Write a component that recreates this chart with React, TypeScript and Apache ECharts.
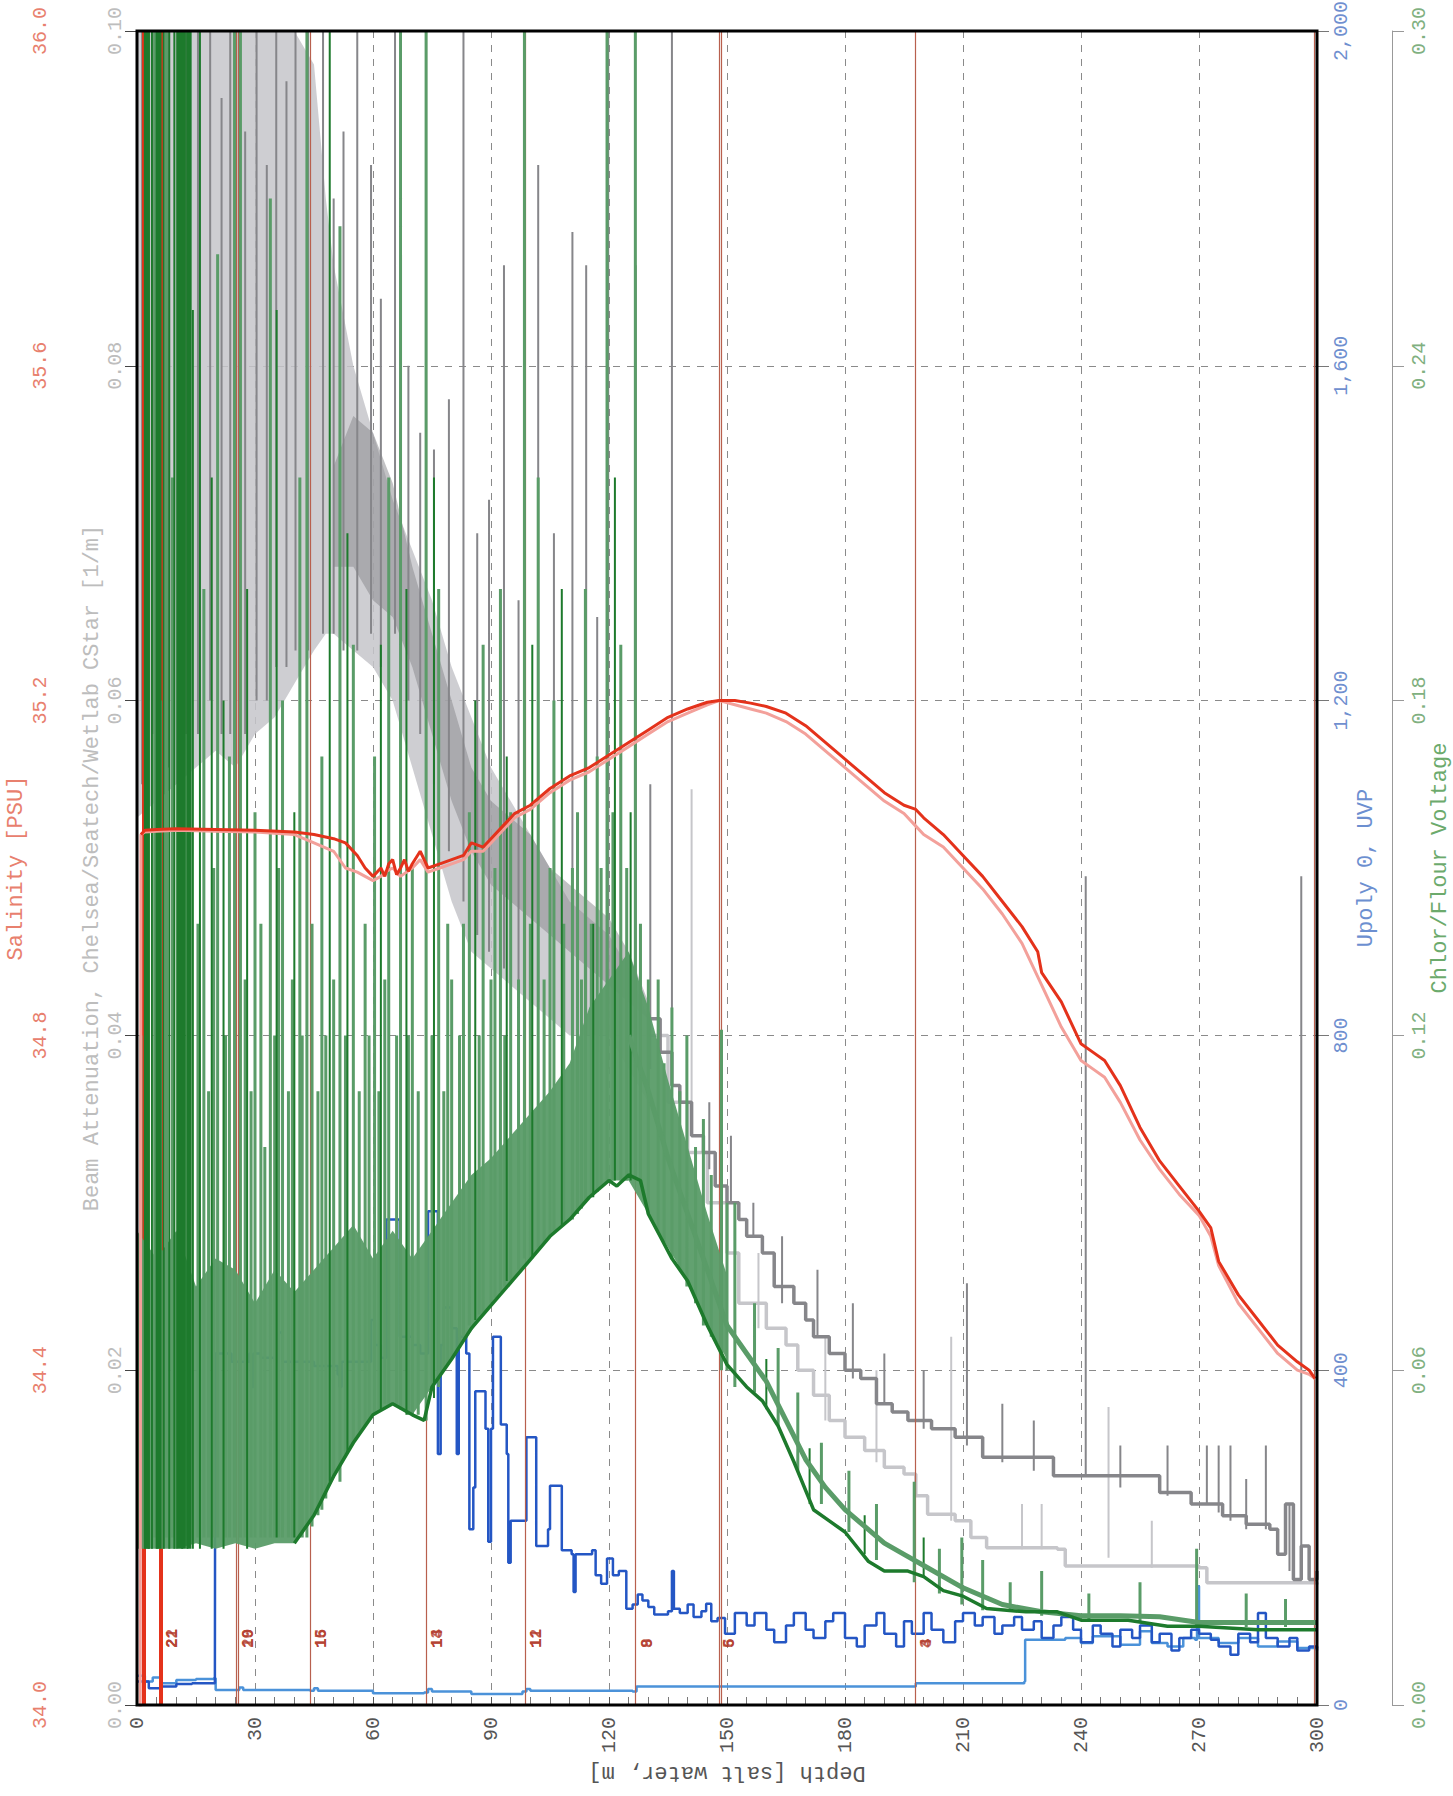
import React, { useEffect, useRef } from "react";
import * as echarts from "echarts";

const MONO = "'Liberation Mono', 'DejaVu Sans Mono', monospace";

// ---------- Salinity [PSU] (down / up casts) ----------
const salinityDown: [number, number][] = [
  [1, 35.04], [2, 35.045], [5, 35.046], [10, 35.047], [20, 35.046], [30, 35.045], [40, 35.043], [45, 35.04],
  [50, 35.035], [53, 35.03], [56, 35.015], [58, 35.0], [60, 34.99], [61, 34.995], [62, 35.0], [63, 34.99],
  [64, 35.005], [65, 35.01], [66, 34.992], [67, 35.0], [68, 35.01], [69, 34.996], [70, 35.005], [72, 35.02],
  [74, 35.0], [77, 35.005], [80, 35.01], [83, 35.015], [85, 35.03], [88, 35.025], [90, 35.035], [93, 35.05],
  [96, 35.065], [100, 35.075], [105, 35.095], [110, 35.11], [115, 35.12], [120, 35.135], [125, 35.15],
  [130, 35.165], [135, 35.18], [140, 35.19], [145, 35.198], [148, 35.2], [152, 35.2], [156, 35.197],
  [160, 35.193], [165, 35.185], [170, 35.17], [175, 35.15], [180, 35.13], [185, 35.11], [190, 35.09],
  [195, 35.075], [198, 35.07], [200, 35.06], [205, 35.04], [210, 35.015], [215, 34.99], [220, 34.96],
  [225, 34.93], [229, 34.9], [230, 34.875], [235, 34.84], [240, 34.79], [243, 34.78], [246, 34.77],
  [250, 34.74], [255, 34.69], [260, 34.65], [265, 34.62], [270, 34.59], [273, 34.57], [275, 34.53],
  [280, 34.49], [285, 34.46], [290, 34.43], [295, 34.41], [298, 34.4], [299.5, 34.39],
];
const salinityUp: [number, number][] = [
  [0.8, 33.9], [1, 35.04], [2, 35.043], [5, 35.044], [10, 35.045], [20, 35.044], [30, 35.043], [40, 35.04],
  [45, 35.03], [50, 35.02], [53, 35.0], [56, 34.995], [58, 34.99], [60, 34.985], [62, 34.99], [63, 34.995],
  [65, 35.0], [67, 34.99], [70, 35.0], [72, 35.01], [74, 34.995], [77, 35.0], [80, 35.005], [83, 35.01],
  [85, 35.02], [88, 35.02], [90, 35.03], [93, 35.045], [96, 35.06], [100, 35.07], [105, 35.09], [110, 35.105],
  [115, 35.115], [120, 35.13], [125, 35.145], [130, 35.16], [135, 35.175], [140, 35.185], [145, 35.195],
  [148, 35.2], [152, 35.195], [156, 35.19], [160, 35.185], [165, 35.175], [170, 35.16], [175, 35.14],
  [180, 35.12], [185, 35.1], [190, 35.08], [195, 35.065], [198, 35.05], [200, 35.04], [205, 35.025],
  [210, 35.0], [215, 34.975], [220, 34.945], [225, 34.91], [230, 34.86], [235, 34.81], [240, 34.77],
  [243, 34.76], [246, 34.75], [250, 34.72], [255, 34.675], [260, 34.64], [265, 34.61], [270, 34.585],
  [273, 34.56], [275, 34.525], [280, 34.48], [285, 34.45], [290, 34.42], [295, 34.4], [298, 34.395], [299.5, 34.39],
];

// ---------- Beam attenuation [1/m] ----------
const beamLightBandDepth = [0, 5, 10, 15, 20, 25, 30, 35, 40, 45, 48, 50, 55, 60, 65, 70, 75, 80, 85, 90, 95, 100, 105, 110, 115, 120, 125, 130];
const beamLightBandLow = [0.053, 0.054, 0.055, 0.056, 0.057, 0.056, 0.058, 0.059, 0.061, 0.063, 0.064, 0.064, 0.063, 0.062, 0.06, 0.056, 0.052, 0.048, 0.045, 0.044, 0.043, 0.042, 0.041, 0.04, 0.04, 0.04, 0.038, 0.036];
const beamLightBandHigh = [0.1, 0.1, 0.1, 0.1, 0.1, 0.1, 0.1, 0.1, 0.1, 0.098, 0.09, 0.086, 0.08, 0.076, 0.072, 0.069, 0.066, 0.062, 0.059, 0.056, 0.054, 0.052, 0.05, 0.048, 0.047, 0.046, 0.044, 0.041];
const beamDarkBandDepth = [50, 55, 60, 65, 70, 75, 80, 85, 90, 95, 100, 105, 110, 115, 120, 125, 130];
const beamDarkBandLow = [0.068, 0.068, 0.066, 0.065, 0.062, 0.058, 0.054, 0.051, 0.049, 0.048, 0.047, 0.046, 0.045, 0.044, 0.043, 0.042, 0.041];
const beamDarkBandHigh = [0.074, 0.077, 0.076, 0.073, 0.068, 0.064, 0.06, 0.056, 0.054, 0.053, 0.052, 0.05, 0.049, 0.048, 0.047, 0.045, 0.042];
const beamDarkTrace: [number, number][] = [
  [130, 0.041], [133, 0.039], [136, 0.037], [138, 0.036], [141, 0.034], [144, 0.033], [147, 0.031], [150, 0.03],
  [153, 0.029], [155, 0.028], [159, 0.027], [162, 0.025], [167, 0.024], [170, 0.023], [172, 0.022], [176, 0.021],
  [180, 0.02], [184, 0.0195], [188, 0.018], [192, 0.0175], [196, 0.017], [202, 0.0165], [208, 0.016], [215, 0.0148],
  [233, 0.0137], [260, 0.0127], [268, 0.012], [276, 0.0113], [282, 0.0108], [288, 0.0105], [290, 0.009],
  [292, 0.012], [294, 0.0075], [296, 0.0095], [298, 0.0075], [300, 0.008],
];
const beamLightTrace: [number, number][] = [
  [130, 0.04], [135, 0.036], [140, 0.033], [145, 0.03], [150, 0.027], [153, 0.024], [160, 0.0225], [165, 0.0215],
  [168, 0.02], [172, 0.0185], [176, 0.017], [180, 0.016], [185, 0.0152], [190, 0.0142], [195, 0.0138], [198, 0.0125],
  [201, 0.0114], [208, 0.011], [212, 0.01], [216, 0.0094], [234, 0.0093], [236, 0.0083], [270, 0.0082],
  [272, 0.0073], [300, 0.0072],
];
// spikes: [depth, from, to]
const beamDarkSpikes: [number, number, number][] = [
  [1.3, 0.055, 0.1], [3, 0.06, 0.1], [4, 0.058, 0.1], [8, 0.056, 0.1], [12.5, 0.058, 0.1], [15.5, 0.058, 0.1],
  [18.6, 0.06, 0.1], [21.5, 0.058, 0.096], [23.7, 0.058, 0.1], [27.5, 0.058, 0.094], [30.4, 0.06, 0.1],
  [33, 0.06, 0.092], [35.4, 0.062, 0.1], [38, 0.062, 0.097], [40.3, 0.063, 0.1], [43.5, 0.063, 0.1],
  [47.3, 0.064, 0.1], [50, 0.064, 0.09], [52.5, 0.063, 0.094], [56, 0.063, 0.1], [59.5, 0.064, 0.092],
  [62, 0.062, 0.084], [65.6, 0.064, 0.1], [69, 0.06, 0.08], [72, 0.058, 0.076], [75.5, 0.055, 0.075],
  [79.3, 0.051, 0.078], [83, 0.048, 0.1], [86.5, 0.046, 0.07], [89.5, 0.045, 0.072], [93.3, 0.044, 0.086],
  [97, 0.043, 0.066], [102, 0.042, 0.092], [106, 0.041, 0.07], [110.7, 0.04, 0.088], [114.2, 0.04, 0.086],
  [117, 0.039, 0.065], [119.8, 0.038, 0.1], [123, 0.038, 0.06], [126.8, 0.037, 0.086], [130.5, 0.038, 0.055],
  [136, 0.037, 0.1], [145.5, 0.032, 0.036], [151, 0.03, 0.034], [156.7, 0.028, 0.03], [164, 0.024, 0.028],
  [173, 0.022, 0.026], [182, 0.0195, 0.024], [190, 0.018, 0.021], [200, 0.0165, 0.02], [211, 0.0155, 0.0252],
  [220, 0.0145, 0.018], [228, 0.014, 0.017], [241.2, 0.0137, 0.0495], [250, 0.013, 0.0155], [262, 0.0125, 0.0155],
  [272, 0.012, 0.0155], [275, 0.0115, 0.0155], [278, 0.011, 0.0155], [282, 0.0105, 0.0135], [287, 0.0105, 0.0155],
  [293, 0.008, 0.012], [296, 0.008, 0.0495],
];
const beamLightSpikes: [number, number, number][] = [
  [141, 0.034, 0.0547], [158, 0.0225, 0.027], [175, 0.017, 0.022], [188, 0.0145, 0.02], [207, 0.011, 0.022],
  [225, 0.0093, 0.012], [230, 0.0093, 0.012], [247, 0.0088, 0.0178], [258, 0.0082, 0.011],
];

// ---------- Upoly 0, UVP ----------
const uvpDark: [number, number][] = [
  [0, 28], [3, 20], [6, 22], [10, 25], [14, 26], [19.8, 28], [19.9, 420], [24, 410], [28.6, 420], [29, 380],
  [29.6, 420], [31.5, 415], [35, 410], [36, 445], [37, 410], [45, 405], [51, 395], [51.5, 380], [52, 410],
  [59.5, 460], [60.5, 430], [62, 415], [63.4, 580], [66.3, 580], [66.8, 440], [70, 430], [72, 420], [74, 590],
  [76, 590], [76.5, 300], [77.2, 430], [78, 475], [80, 450], [81.3, 300], [81.8, 440], [83.7, 420], [84.5, 210],
  [85.5, 260], [86, 375], [88.6, 330], [89.3, 195], [90, 330], [90.5, 440], [92.5, 335], [94, 300], [94.4, 170],
  [95, 220], [98.5, 220], [99, 320], [101, 320], [101.5, 190], [103.6, 190], [104.5, 210], [105, 262],
  [107.5, 262], [108, 185], [110.5, 180], [111, 135], [111.5, 180], [115.7, 185], [116.6, 155], [118, 145],
  [119.5, 175], [120.5, 175], [121, 155], [122.5, 160], [124.4, 115], [126, 120], [127.3, 132], [128.5, 125],
  [130, 117], [131.5, 108], [133, 108], [135, 112], [136, 160], [136.5, 115], [138, 110], [140, 120],
  [141.5, 105], [143.5, 112], [144.7, 121], [146, 100], [147.6, 104], [149.5, 85], [152, 110], [155, 95],
  [157, 110], [160, 90], [162, 75], [165, 95], [167, 110], [170, 90], [172, 80], [175, 100], [177, 110],
  [180, 80], [183, 70], [185, 95], [188, 110], [190, 85], [193, 70], [195, 100], [197, 85], [200, 110],
  [202, 90], [205, 75], [208, 100], [210, 110], [213, 95], [215, 105], [218, 85], [220, 95], [223, 105],
  [225, 90], [228, 100], [230, 80], [233, 95], [235, 105], [238, 90], [240, 75], [243, 95], [245, 85],
  [248, 70], [250, 90], [253, 80], [255, 95], [258, 75], [260, 85], [263, 65], [265, 80], [268, 90], [270, 85],
  [273, 78], [275, 70], [278, 60], [280, 85], [283, 75], [285, 110], [287, 80], [290, 70], [293, 80],
  [295, 65], [298, 70], [300, 65],
];
const uvpLight: [number, number][] = [
  [0, 35], [2, 28], [4, 33], [6, 26], [10, 30], [15, 31], [19.5, 32], [20, 18], [25, 18], [26, 21], [27, 18],
  [44, 17], [45, 20], [46, 17], [60, 14], [73, 15], [74, 19], [75, 16], [85, 13], [98, 16], [99, 19], [100, 17],
  [126, 16], [127, 22], [197, 22], [198, 26], [225.6, 28], [225.8, 78], [236, 80], [240, 74], [243, 82],
  [250, 72], [255, 88], [258, 74], [262, 70], [266, 80], [269, 78], [269.5, 142], [270, 80], [275, 74],
  [280, 80], [285, 70], [290, 76], [295, 68], [300, 70],
];

// ---------- Chlor/Flour Voltage ----------
const chlorBandDepth = [0, 5, 10, 15, 20, 25, 30, 35, 40, 45, 50, 55, 60, 65, 70, 75, 80, 85, 90, 95, 100, 105, 110, 115, 120, 125, 130, 135, 140, 145, 150];
const chlorBandLow = [0.028, 0.028, 0.028, 0.029, 0.028, 0.029, 0.028, 0.029, 0.029, 0.034, 0.041, 0.047, 0.052, 0.054, 0.052, 0.057, 0.062, 0.067, 0.072, 0.076, 0.08, 0.084, 0.087, 0.091, 0.094, 0.094, 0.088, 0.082, 0.076, 0.068, 0.062];
const chlorBandHigh = [0.085, 0.08, 0.085, 0.075, 0.08, 0.078, 0.072, 0.078, 0.074, 0.078, 0.082, 0.086, 0.08, 0.085, 0.08, 0.085, 0.09, 0.095, 0.098, 0.102, 0.106, 0.11, 0.115, 0.125, 0.13, 0.135, 0.125, 0.112, 0.1, 0.088, 0.077];
const chlorDarkTrace: [number, number][] = [
  [40, 0.029], [45, 0.034], [50, 0.041], [55, 0.047], [60, 0.052], [65, 0.054], [70, 0.052], [73, 0.051],
  [75, 0.057], [80, 0.062], [85, 0.0675], [90, 0.0716], [95, 0.0757], [100, 0.0798], [105, 0.084], [110, 0.087],
  [115, 0.091], [120, 0.094], [122, 0.093], [125, 0.095], [128, 0.094], [130, 0.088], [133, 0.084], [136, 0.08],
  [140, 0.076], [145, 0.068], [150, 0.061], [155, 0.057], [159, 0.0545], [163, 0.05], [167, 0.0436], [172, 0.035],
  [176, 0.033], [180, 0.031], [186, 0.0257], [190, 0.024], [196, 0.024], [200, 0.023], [205, 0.0205],
  [210, 0.0195], [216, 0.0173], [226, 0.0167], [234, 0.0167], [240, 0.0152], [252, 0.0152], [262, 0.0141],
  [270, 0.0141], [285, 0.0135], [300, 0.0135],
];
const chlorLightTrace: [number, number][] = [
  [125, 0.12], [130, 0.11], [135, 0.098], [140, 0.088], [145, 0.078], [150, 0.068], [155, 0.063], [160, 0.058],
  [165, 0.051], [170, 0.044], [175, 0.039], [180, 0.035], [185, 0.032], [190, 0.029], [195, 0.027], [200, 0.025],
  [210, 0.021], [220, 0.018], [230, 0.0167], [240, 0.016], [250, 0.016], [260, 0.0158], [270, 0.0148],
  [280, 0.0148], [290, 0.0148], [300, 0.0148],
];
const chlorLightSpikes: [number, number, number][] = [
  [1, 0.03, 0.12], [4.5, 0.03, 0.3], [6, 0.03, 0.18], [7.5, 0.03, 0.3], [9, 0.03, 0.22], [10.9, 0.03, 0.3],
  [13.5, 0.03, 0.3], [15.5, 0.03, 0.14], [17, 0.03, 0.2], [18.2, 0.03, 0.11], [19.5, 0.03, 0.15],
  [20.5, 0.03, 0.26], [22.5, 0.03, 0.12], [23.5, 0.03, 0.17], [24.8, 0.03, 0.3], [26.3, 0.03, 0.3],
  [27.5, 0.03, 0.13], [29, 0.03, 0.11], [30, 0.03, 0.16], [31.5, 0.03, 0.14], [32.5, 0.03, 0.1],
  [33.9, 0.03, 0.27], [35, 0.03, 0.12], [36, 0.03, 0.15], [37, 0.03, 0.18], [38.5, 0.03, 0.11],
  [39.5, 0.03, 0.13], [41.4, 0.03, 0.22], [42, 0.03, 0.12], [43.2, 0.03, 0.3], [44.5, 0.032, 0.14],
  [46, 0.034, 0.11], [47, 0.035, 0.17], [48, 0.037, 0.12], [50, 0.041, 0.13], [51.6, 0.04, 0.265],
  [53, 0.045, 0.12], [55, 0.047, 0.19], [56.5, 0.049, 0.11], [58, 0.05, 0.14], [59, 0.051, 0.12],
  [60.4, 0.052, 0.17], [61.5, 0.053, 0.11], [63, 0.054, 0.13], [64, 0.054, 0.22], [66, 0.054, 0.12],
  [67, 0.053, 0.3], [69, 0.052, 0.12], [70, 0.052, 0.15], [71.5, 0.052, 0.11], [73.5, 0.051, 0.3],
  [75, 0.057, 0.12], [76.7, 0.057, 0.2], [78, 0.06, 0.11], [79, 0.061, 0.14], [80, 0.062, 0.13],
  [82, 0.064, 0.12], [83, 0.066, 0.14], [84.5, 0.068, 0.16], [87, 0.07, 0.12], [88, 0.07, 0.19],
  [90, 0.072, 0.13], [91, 0.073, 0.15], [92.4, 0.074, 0.2], [93.5, 0.075, 0.12], [95, 0.076, 0.16],
  [97, 0.078, 0.13], [98.5, 0.08, 0.3], [100, 0.08, 0.14], [102, 0.082, 0.22], [103.5, 0.083, 0.13],
  [105, 0.084, 0.15], [106, 0.085, 0.18], [108.5, 0.086, 0.14], [110.7, 0.087, 0.15], [112, 0.088, 0.16],
  [113, 0.089, 0.13], [114, 0.09, 0.2], [115.5, 0.091, 0.14], [117, 0.092, 0.17], [118, 0.093, 0.15],
  [119.5, 0.094, 0.3], [121, 0.094, 0.16], [123, 0.094, 0.19], [124.5, 0.094, 0.15], [126.7, 0.094, 0.3],
  [128, 0.094, 0.14], [130, 0.088, 0.13], [132.5, 0.085, 0.13], [134, 0.083, 0.115], [136, 0.08, 0.125],
  [138, 0.078, 0.11], [139.8, 0.075, 0.12], [142, 0.072, 0.1], [144, 0.068, 0.105], [146, 0.066, 0.095],
  [148.6, 0.06, 0.121], [150, 0.06, 0.09], [152, 0.057, 0.09], [157, 0.056, 0.072], [163, 0.05, 0.064],
  [168, 0.042, 0.056], [174, 0.036, 0.047], [181, 0.031, 0.042], [188, 0.026, 0.036], [197.6, 0.022, 0.04],
  [204, 0.02, 0.028], [209.7, 0.018, 0.03], [215, 0.017, 0.026], [222, 0.017, 0.022], [230, 0.016, 0.024],
  [242, 0.0152, 0.02], [255, 0.015, 0.022], [269.4, 0.014, 0.028], [282, 0.014, 0.02], [292, 0.014, 0.019],
];
const chlorDarkSpikes: [number, number, number][] = [
  [2, 0.028, 0.3], [3, 0.028, 0.3], [3.8, 0.028, 0.3], [5, 0.028, 0.3], [6.8, 0.028, 0.3], [8.2, 0.028, 0.3],
  [9.5, 0.028, 0.3], [11.5, 0.028, 0.3], [12.8, 0.028, 0.3], [14.2, 0.028, 0.25], [16, 0.028, 0.3],
  [19, 0.028, 0.22], [22, 0.028, 0.18], [28, 0.028, 0.2], [35.5, 0.03, 0.25], [40, 0.03, 0.16], [49, 0.04, 0.3],
  [53.5, 0.045, 0.21], [62, 0.053, 0.19], [68.5, 0.052, 0.2], [75.5, 0.055, 0.22], [86, 0.069, 0.18],
  [94, 0.076, 0.17], [100.5, 0.08, 0.19], [108, 0.086, 0.2], [116, 0.091, 0.14], [121.5, 0.094, 0.22],
  [125.5, 0.094, 0.16], [160, 0.053, 0.062], [171, 0.036, 0.046], [185, 0.027, 0.034], [200, 0.023, 0.03],
];
const chlorDarkThickSpikes: [number, number, number][] = [
  [2.6, 0.028, 0.3], [5.6, 0.028, 0.3], [10.6, 0.028, 0.3], [11.8, 0.028, 0.3], [13.2, 0.028, 0.3],
];

// ---------- Bottle firings ----------
const bottleThinDepths = [25.2, 25.8, 44.0, 73.5, 98.7, 126.8, 148.0, 148.6, 197.8, 299.3];
const bottleThickDepths = [1.8, 6.1];
const bottleLabelDepths = [9.2, 28.5, 47.0, 76.5, 101.7, 129.8, 150.8, 200.8];
const bottleLabelsA = ["22", "20", "16", "14", "12", "9", "6", "3"];
const bottleLabelsB = ["21", "19", "15", "13", "11", "8", "5", "4"];

function spikeData(sp: [number, number, number][]) {
  const out: any[] = [];
  sp.forEach(([d, a, b]) => {
    out.push([d, a], [d, b], [d, "-"]);
  });
  return out;
}
function band(depth: number[], low: number[], high: number[], yAxisIndex: number, color: string, opacity: number, z: number) {
  return {
    type: "custom", yAxisIndex, z, silent: true,
    data: [[depth[0], low[0]]],
    renderItem: (_p: any, api: any) => {
      const top = depth.map((d, i) => api.coord([d, high[i]]));
      const bot = depth.map((d, i) => api.coord([d, low[i]])).reverse();
      return { type: "polygon", shape: { points: top.concat(bot) }, style: { fill: color, opacity } };
    },
  };
}

const C = {
  red: "#e4321b", pink: "#f3a09a", grayD: "#86868a", grayL: "#c6c6ca",
  greenD: "#1d7a2c", greenL: "#5a9c68", blueD: "#2456c4", blueL: "#4b92d9", bottle: "#b8604e",
};

function buildOption() {
  const series: any[] = [];
  series.push({
    type: "line", data: [], yAxisIndex: 1, z: 1, silent: true,
    markLine: {
      silent: true, symbol: ["none", "none"], label: { show: false },
      lineStyle: { color: C.bottle, width: 1.2, type: "solid" },
      data: bottleThinDepths.map((d) => ({ xAxis: d })),
    },
  });
  series.push(band(beamLightBandDepth, beamLightBandLow, beamLightBandHigh, 1, C.grayL, 0.85, 2));
  series.push(band(beamDarkBandDepth, beamDarkBandLow, beamDarkBandHigh, 1, C.grayD, 0.5, 2));
  series.push({ type: "line", yAxisIndex: 1, z: 3, symbol: "none", step: "end", data: beamLightTrace, lineStyle: { color: C.grayL, width: 3.5 } });
  series.push({ type: "line", yAxisIndex: 1, z: 3, symbol: "none", data: spikeData(beamLightSpikes), lineStyle: { color: C.grayL, width: 2 } });
  series.push({ type: "line", yAxisIndex: 1, z: 3, symbol: "none", step: "end", data: beamDarkTrace, lineStyle: { color: C.grayD, width: 3.5 } });
  series.push({ type: "line", yAxisIndex: 1, z: 3, symbol: "none", data: spikeData(beamDarkSpikes), lineStyle: { color: C.grayD, width: 2 } });
  series.push({ type: "line", yAxisIndex: 2, z: 4, symbol: "none", step: "end", data: uvpLight, lineStyle: { color: C.blueL, width: 2.5 } });
  series.push({ type: "line", yAxisIndex: 2, z: 4, symbol: "none", step: "end", data: uvpDark, lineStyle: { color: C.blueD, width: 2.5 } });
  series.push(band(chlorBandDepth, chlorBandLow, chlorBandHigh, 3, C.greenL, 0.95, 5));
  series.push({ type: "line", yAxisIndex: 3, z: 6, symbol: "none", data: spikeData(chlorLightSpikes), lineStyle: { color: C.greenL, width: 3 } });
  series.push({ type: "line", yAxisIndex: 3, z: 6, symbol: "none", data: spikeData(chlorDarkSpikes), lineStyle: { color: C.greenD, width: 2 } });
  series.push({ type: "line", yAxisIndex: 3, z: 6, symbol: "none", data: spikeData(chlorDarkThickSpikes), lineStyle: { color: C.greenD, width: 5 } });
  series.push({ type: "line", yAxisIndex: 3, z: 6, symbol: "none", data: chlorLightTrace, lineStyle: { color: C.greenL, width: 5 } });
  series.push({ type: "line", yAxisIndex: 3, z: 6, symbol: "none", data: chlorDarkTrace, lineStyle: { color: C.greenD, width: 3.5 } });
  series.push({
    type: "line", data: [], yAxisIndex: 1, z: 7, silent: true,
    markLine: {
      silent: true, symbol: ["none", "none"], label: { show: false },
      lineStyle: { color: C.red, width: 4, type: "solid" },
      data: bottleThickDepths.map((d) => ({ xAxis: d })),
    },
  });
  series.push({ type: "line", yAxisIndex: 0, z: 8, symbol: "none", data: salinityUp, lineStyle: { color: C.pink, width: 3 } });
  series.push({ type: "line", yAxisIndex: 0, z: 8, symbol: "none", data: salinityDown, lineStyle: { color: C.red, width: 3 } });
  const lab = (texts: string[]) => ({
    type: "scatter", yAxisIndex: 1, z: 9, symbolSize: 0, silent: true,
    data: bottleLabelDepths.map((d, i) => [d, 0.0034, texts[i]]),
    label: {
      show: true, position: "inside", formatter: (p: any) => p.value[2], rotate: 90,
      align: "left", verticalAlign: "middle", fontFamily: MONO, fontSize: 16, fontWeight: "bold", color: "#b23a2a",
    },
  });
  series.push(lab(bottleLabelsA), lab(bottleLabelsB));

  const yBase = (o: any) => ({
    type: "value", nameLocation: "middle", nameRotate: 90, nameMoveOverlap: false, splitLine: { show: false },
    ...o,
  });
  return {
    animation: false,
    grid: { left: 137, right: 136, top: 31, bottom: 91, show: false, containLabel: false, outerBoundsMode: "none" },
    xAxis: {
      type: "value", min: 0, max: 300, interval: 30, position: "bottom",
      name: "Depth [salt water, m]", nameLocation: "middle", nameGap: 56, nameRotate: 180, nameMoveOverlap: false,
      nameTextStyle: { fontFamily: MONO, fontSize: 22, color: "#555" },
      axisLine: { show: false },
      axisTick: { show: true, inside: true, length: 8, lineStyle: { color: "#555" } },
      minorTick: { show: true, splitNumber: 6, length: 8, lineStyle: { color: "#777" } },
      axisLabel: { rotate: 90, margin: 12, fontFamily: MONO, fontSize: 20, color: "#555" },
      splitLine: { show: true, lineStyle: { color: "#8a8a8a", type: [7, 7], width: 1 } },
    },
    yAxis: [
      yBase({
        position: "left", offset: 77, min: 34, max: 36, interval: 0.4,
        name: "Salinity [PSU]", nameGap: 33, nameTextStyle: { color: "#e8806e", fontFamily: MONO, fontSize: 22 },
        axisLine: { show: true, lineStyle: { color: "#999" } },
        axisTick: { show: true, length: 12, lineStyle: { color: "#999" } },
        axisLabel: { rotate: 90, margin: 10, color: "#e8806e", fontFamily: MONO, fontSize: 20, formatter: (v: number) => v.toFixed(1) },
      }),
      yBase({
        position: "left", offset: 0, min: 0, max: 0.1, interval: 0.02,
        name: "Beam Attenuation, Chelsea/Seatech/Wetlab CStar [1/m]", nameGap: 34,
        nameTextStyle: { color: "#bdbdbd", fontFamily: MONO, fontSize: 22 },
        axisLine: { show: false },
        axisTick: { show: true, length: 12, lineStyle: { color: "#444" } },
        axisLabel: { rotate: 90, margin: 12, color: "#bdbdbd", fontFamily: MONO, fontSize: 20, formatter: (v: number) => v.toFixed(2) },
        splitLine: { show: true, lineStyle: { color: "#8a8a8a", type: [7, 7], width: 1 } },
      }),
      yBase({
        position: "right", offset: 0, min: 0, max: 2000, interval: 400,
        name: "Upoly 0, UVP", nameGap: 38, nameTextStyle: { color: "#6c8fd0", fontFamily: MONO, fontSize: 22 },
        axisLine: { show: false },
        axisTick: { show: true, length: 12, lineStyle: { color: "#777" } },
        axisLabel: { rotate: 90, margin: 14, color: "#6f8fcf", fontFamily: MONO, fontSize: 20, formatter: (v: number) => v.toLocaleString("en-US") },
      }),
      yBase({
        position: "right", offset: 75, min: 0, max: 0.3, interval: 0.06,
        name: "Chlor/Flour Voltage", nameGap: 37, nameTextStyle: { color: "#6caa6c", fontFamily: MONO, fontSize: 22 },
        axisLine: { show: true, lineStyle: { color: "#999" } },
        axisTick: { show: true, length: 12, lineStyle: { color: "#999" } },
        axisLabel: { rotate: 90, margin: 17, color: "#80b080", fontFamily: MONO, fontSize: 20, formatter: (v: number) => v.toFixed(2) },
      }),
    ],
    graphic: [
      {
        type: "rect", z: 100, silent: true,
        shape: { x: 137, y: 31, width: 1180, height: 1674 },
        style: { fill: "none", stroke: "#000", lineWidth: 3 },
      },
    ],
    series,
  };
}

export default function App() {
  const ref = useRef<HTMLDivElement>(null);
  useEffect(() => {
    document.body.style.margin = "0";
    const chart = echarts.init(ref.current!, null, { renderer: "svg" });
    chart.setOption(buildOption() as any);
    return () => chart.dispose();
  }, []);
  return <div ref={ref} style={{ width: 1453, height: 1796, background: "#fff" }} />;
}
